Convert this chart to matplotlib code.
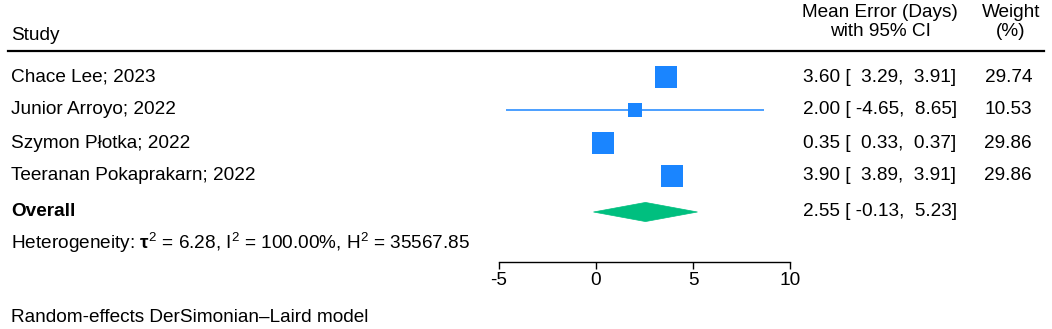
import matplotlib
matplotlib.use("Agg")
import matplotlib.pyplot as plt
from matplotlib.lines import Line2D
from matplotlib.patches import Polygon
from matplotlib.transforms import blended_transform_factory
import numpy as np

# ── data ──────────────────────────────────────────────────────────────────────
studies  = ["Chace Lee; 2023", "Junior Arroyo; 2022",
            "Szymon Płotka; 2022", "Teeranan Pokaprakarn; 2022"]
means    = [3.60, 2.00, 0.35, 3.90]
ci_low   = [3.29, -4.65, 0.33, 3.89]
ci_high  = [3.91, 8.65, 0.37, 3.91]
weights  = [29.74, 10.53, 29.86, 29.86]
overall  = (2.55, -0.13, 5.23)
het_text = (r"Heterogeneity: $\mathbf{\tau}^2$ = 6.28, I$^2$ = 100.00%, "
            r"H$^2$ = 35567.85")
x_ticks  = [-5, 0, 5, 10]

# ── style ─────────────────────────────────────────────────────────────────────
BLUE  = "#1a85ff"
GREEN = "#00bf7f"
FS = 13.7
plt.rcParams.update({
    "font.family": ["Liberation Sans", "DejaVu Sans"],
    "font.size": FS,
    "mathtext.fontset": "custom",
    "mathtext.rm": "Liberation Sans",
    "mathtext.it": "Liberation Sans:italic",
    "mathtext.bf": "Liberation Sans:bold",
})

W, H = 1052, 329
fig = plt.figure(figsize=(W / 100, H / 100), dpi=100)

# rows: study i sits at y=i ; pixel layout 77 + 33*i
row0, step = 77, 33
def prow(px):
    return (px - row0) / step

ax_top, ax_bot = 51, 262
ax = fig.add_axes([499 / W, 1 - ax_bot / H, 291 / W, (ax_bot - ax_top) / H])
ax.set_xlim(-5, 10)
ax.set_ylim(prow(ax_bot), prow(ax_top))
for s in ["top", "left", "right"]:
    ax.spines[s].set_visible(False)
ax.spines["bottom"].set_bounds(-5, 10)
ax.spines["bottom"].set_linewidth(1.0)
ax.set_yticks([])
ax.set_xticks(x_ticks)
ax.set_xticklabels([str(t) for t in x_ticks])
ax.tick_params(axis="x", length=5, width=1.0, pad=2.5, labelsize=FS)
ax.patch.set_alpha(0)

# study markers + CIs
for i, (m, lo, hi, w) in enumerate(zip(means, ci_low, ci_high, weights)):
    ax.plot([lo, hi], [i, i], color=BLUE, lw=1.1, solid_capstyle="butt", clip_on=False)
    ax.plot(m, i, marker="s", ms=2.9 * np.sqrt(w), color=BLUE, mew=0, clip_on=False)

# overall diamond
y_ov = prow(212)
est, lo, hi = overall
dh = 0.29
ax.add_patch(Polygon([[lo, y_ov], [est, y_ov - dh], [hi, y_ov], [est, y_ov + dh]],
                     closed=True, facecolor=GREEN, edgecolor=GREEN, lw=0.5, clip_on=False))

# ── text columns ──────────────────────────────────────────────────────────────
tr = blended_transform_factory(fig.transFigure, ax.transData)
xs = 11 / W
for i, name in enumerate(studies):
    fig.text(xs, i, name, transform=tr, va="center", ha="left")
    fig.text(803 / W, i, f"{means[i]:.2f} [{ci_low[i]:6.2f}, {ci_high[i]:5.2f}]",
             transform=tr, va="center", ha="left")
    fig.text(1032 / W, i, f"{weights[i]:.2f}", transform=tr, va="center", ha="right")

fig.text(xs, y_ov, "Overall", transform=tr, va="center", ha="left", fontweight="bold")
fig.text(803 / W, y_ov, f"{est:.2f} [{lo:6.2f}, {hi:5.2f}]",
         transform=tr, va="center", ha="left")
fig.text(xs, prow(243), het_text, transform=tr, va="center", ha="left")

# headers
fig.text(xs, 1 - 36 / H, "Study", va="center", ha="left")
fig.text(880 / W, 1 - 22 / H, "Mean Error (Days)\nwith 95% CI",
         va="center", ha="center", linespacing=1.2)
fig.text(1011 / W, 1 - 22 / H, "Weight\n(%)", va="center", ha="center", linespacing=1.2)

# top rule
fig.add_artist(Line2D([8 / W, 1044 / W], [1 - ax_top / H] * 2, color="black", lw=1.6))

# footnote
fig.text(xs, 1 - 318 / H, "Random-effects DerSimonian–Laird model", va="center", ha="left")

fig.savefig("out.png", dpi=100, facecolor="white")
